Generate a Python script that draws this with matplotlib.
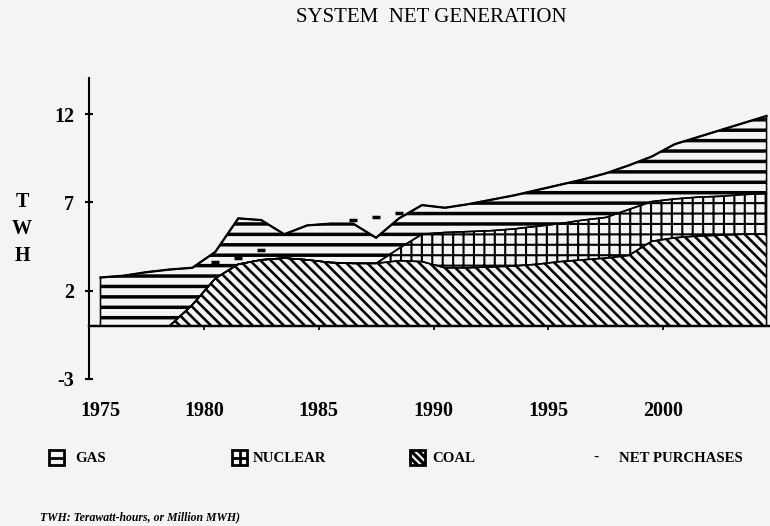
import numpy as np
import matplotlib
matplotlib.use("Agg")
import matplotlib.pyplot as plt
from matplotlib.lines import Line2D
from matplotlib.patches import Rectangle
from matplotlib.transforms import blended_transform_factory

# ---------------- data (TWh) ----------------
years = list(range(1975, 2005))
coal = [0, 0, 0, 0, 1.2, 2.7, 3.5, 3.75, 3.85, 3.75,
        3.6, 3.55, 3.55, 3.7, 3.65, 3.3, 3.3, 3.35, 3.4, 3.5,
        3.65, 3.75, 3.85, 4.0, 4.8, 5.0, 5.1, 5.15, 5.2, 5.2]
nuclear = [0, 0, 0, 0, 0, 0, 0, 0, 0, 0,
           0, 0, 0, 0.7, 1.55, 2.0, 2.05, 2.05, 2.1, 2.15,
           2.15, 2.25, 2.3, 2.6, 2.25, 2.2, 2.2, 2.2, 2.25, 2.3]
gas = [2.75, 2.85, 3.05, 3.2, 2.1, 1.5, 2.6, 2.25, 1.35, 1.95,
       2.2, 2.25, 1.45, 1.7, 1.65, 1.4, 1.55, 1.75, 1.9, 2.05,
       2.2, 2.3, 2.5, 2.5, 2.55, 3.1, 3.4, 3.75, 4.05, 4.4]
purchase_years = [1980, 1981, 1982, 1986, 1987, 1988]
purchase_vals = [3.6, 3.85, 4.3, 6.0, 6.15, 6.4]

yticks = [-3, 2, 7, 12]
xtick_years = [1975, 1980, 1985, 1990, 1995, 2000]
legend_labels = ["GAS", "NUCLEAR", "COAL", "NET PURCHASES"]
title = "SYSTEM  NET GENERATION"
footnote = "TWH: Terawatt-hours, or Million MWH)"

# ---------------- style ----------------
SERIF = ["Liberation Serif", "DejaVu Serif"]
plt.rcParams["font.family"] = SERIF
plt.rcParams["hatch.color"] = "black"
BG = "#f4f4f3"

DPI = 125
W, H = 770.0, 526.0
fig = plt.figure(figsize=(W / DPI, H / DPI), dpi=DPI, facecolor=BG)
ax = fig.add_axes([89 / W, 1 - 379 / H, 1 - 89 / W, (379 - 78) / H])
ax.set_facecolor("none")

x = np.array(years) + 0.5
c = np.array(coal, dtype=float)
n = np.array(nuclear, dtype=float)
g = np.array(gas, dtype=float)
nuc_top = c + n
total = nuc_top + g


def layer(lo, hi, hatch, hlw):
    plt.rcParams["hatch.linewidth"] = hlw
    coll = ax.fill_between(x, lo, hi, facecolor="none", edgecolor="black",
                           hatch=hatch, linewidth=0.9)
    try:
        coll.set_hatch_linewidth(hlw)
    except Exception:
        pass
    return coll


layer(0, c, "\\\\\\\\", 1.5)
layer(c, nuc_top, "++", 1.2)
layer(nuc_top, total, "--", 2.0)
ax.plot(x, total, color="black", lw=1.3, solid_joinstyle="miter")

ax.plot(np.array(purchase_years) + 0.5, purchase_vals, linestyle="none",
        marker="_", markersize=4.5, markeredgewidth=2.0, color="black")

ax.set_xlim(1975, 2004.65)
ax.set_ylim(-3, 14.05)

for s in ["top", "right"]:
    ax.spines[s].set_visible(False)
ax.spines["bottom"].set_position(("data", 0))
ax.spines["left"].set_linewidth(1.2)
ax.spines["bottom"].set_linewidth(1.4)

ax.set_yticks(yticks)
ax.set_yticklabels([str(v) for v in yticks], fontsize=11.5, fontweight="bold")
ax.tick_params(axis="y", direction="inout", length=5, width=1.2, pad=6)
ax.set_xticks(xtick_years[1:])
ax.tick_params(axis="x", direction="out", length=2.5, width=1.0, labelbottom=False)

tr = blended_transform_factory(ax.transData, ax.transAxes)
for yr in xtick_years:
    ax.text(max(yr, 1975.5), -0.107, str(yr), transform=tr, ha="center", va="center",
            fontsize=11.5, fontweight="bold")

# y-axis label
for ch, ypx in zip("TWH", [202, 229, 256]):
    fig.text(22 / W, 1 - ypx / H, ch, ha="center", va="center", fontsize=11.5, fontweight="bold")

fig.text(431 / W, 1 - 17 / H, title, ha="center", va="center", fontsize=12)


# ---------------- legend (drawn by hand) ----------------
def fline(xs, ys, lw=1.4):
    fig.add_artist(Line2D([v / W for v in xs], [1 - v / H for v in ys],
                          transform=fig.transFigure, color="black", lw=lw,
                          solid_capstyle="butt"))


def box(x0, y0, w, h):
    fig.add_artist(Rectangle((x0 / W, 1 - (y0 + h) / H), w / W, h / H,
                             transform=fig.transFigure, facecolor="none",
                             edgecolor="black", linewidth=1.6))
    return x0, y0, w, h


bw, bh, by = 15, 15, 450
# gas: box with middle horizontal line
x0, y0, w, h = box(49, by, bw, bh)
fline([x0, x0 + w], [y0 + h / 2, y0 + h / 2], 1.6)
# nuclear: box with cross
x0, y0, w, h = box(232, by, bw, bh)
fline([x0, x0 + w], [y0 + h / 2, y0 + h / 2], 1.6)
fline([x0 + w / 2, x0 + w / 2], [y0, y0 + h], 1.6)
# coal: box with diagonals
x0, y0, w, h = box(410, by, bw, bh)
for k in [-0.5, 0.0, 0.5]:
    xa, xb = x0 + k * w, x0 + w + k * w
    ya, yb = y0, y0 + h
    if xa < x0:
        ya = y0 + (x0 - xa) * h / w
        xa = x0
    if xb > x0 + w:
        yb = y0 + h - (xb - x0 - w) * h / w
        xb = x0 + w
    fline([xa, xb], [ya, yb], 1.8)

text_x = [75, 253, 432, 619]
ly = 458
for lab, tx in zip(legend_labels, text_x):
    fig.text(tx / W, 1 - ly / H, lab, ha="left", va="center", fontsize=8.6, fontweight="bold")
fig.text(596 / W, 1 - ly / H, "-", ha="center", va="center", fontsize=9, fontweight="bold")

fig.text(40 / W, 1 - 517 / H, footnote, ha="left", va="center", fontsize=6.8,
         fontweight="bold", style="italic")

fig.savefig("out.png", dpi=DPI, facecolor=BG)
